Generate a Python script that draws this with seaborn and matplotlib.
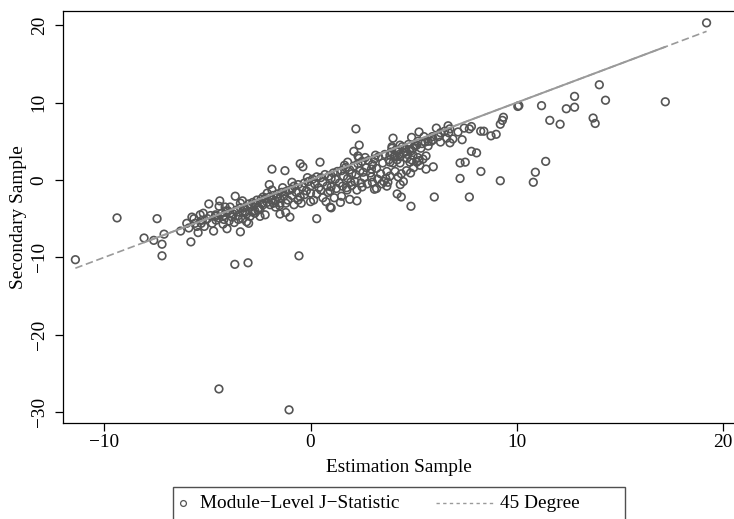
import numpy as np
import pandas as pd
import matplotlib
matplotlib.use("Agg")
import matplotlib.pyplot as plt
import seaborn as sns
from matplotlib.lines import Line2D
from matplotlib.patches import Rectangle

# ---- data (Estimation Sample, Secondary Sample) ----
est_outer = [-11.4, -9.38, -7.44, -8.07, -7.6, -7.2, -7.2, -7.1, -5.8, -5.9, -5.45, -4.93, -4.4,
             -4.44, -3.67, -3.03, -1.04, -0.56, -3.4, -3.0, 0.3, 1.0, -1.48, -1.0, -1.2,
             2.2, 2.36, 2.1, 2.3, -1.87, -1.24, -0.5, -0.37, 0.46, 1.8, 4.0, 4.87, 6.0, 7.7,
             7.25, 7.25, 7.5, 8.26, 7.8, 8.05, 5.6, 4.2, 4.4, 3.1, 3.2, 2.25, 1.9, 0.95, 0.0]
sec_outer = [-10.3, -4.9, -5.0, -7.5, -7.8, -8.3, -9.8, -7.0, -8.0, -6.2, -6.8, -3.1, -2.7,
             -27.0, -10.9, -10.7, -29.7, -9.8, -6.7, -5.6, -5.0, -3.6, -4.4, -4.8, -4.2,
             6.6, 4.5, 3.7, 3.1, 1.4, 1.2, 2.1, 1.7, 2.3, 2.3, 5.4, -3.4, -2.2, -2.2,
             0.2, 2.2, 2.3, 1.1, 3.7, 3.5, 1.4, -1.8, -2.2, -1.2, -1.1, -2.7, -2.5, -1.4, -2.8]

est_upper = [19.2, 14.0, 14.3, 12.8, 12.8, 12.4, 11.2, 10.1, 10.05, 17.2, 13.7, 13.8, 11.6, 12.1,
             9.35, 9.3, 9.2, 8.4, 8.25, 8.75, 9.0, 11.4, 10.9, 10.8, 9.2, 7.8, 7.7, 7.45, 7.15,
             7.35, 6.67, 6.7, 6.6, 6.76, 6.9, 6.3, 6.1, 5.9, 5.95, 5.7, 5.55, 5.26, 4.9, 5.4,
             5.15, 4.97, 4.8, 4.58, 4.34, 3.95, 4.2, 4.5, 4.7, 4.97, 5.2, 5.45, 5.6, 5.26, 4.9,
             4.67, 4.34, 4.1, 4.0, 4.34, 4.82, 5.15, 3.95, 3.85, 3.85, 4.2, 3.7, 2.96, 2.5,
             2.25, 1.77, 1.5, 0.95]
sec_upper = [20.3, 12.3, 10.3, 10.8, 9.4, 9.2, 9.6, 9.6, 9.5, 10.1, 8.0, 7.3, 7.7, 7.2,
             8.1, 7.7, 7.2, 6.3, 6.3, 5.7, 5.9, 2.4, 1.0, -0.3, -0.1, 6.9, 6.6, 6.7, 6.2,
             5.2, 7.0, 6.1, 5.4, 4.8, 5.3, 6.1, 6.7, 5.6, 5.2, 5.0, 4.9, 6.2, 5.5, 4.7,
             4.5, 4.1, 3.9, 4.1, 4.5, 4.1, 3.7, 3.5, 3.3, 3.2, 2.9, 2.7, 3.1, 2.5, 2.6,
             2.8, 3.0, 3.2, 2.2, 2.2, 2.3, 2.3, 4.3, 3.2, 2.3, 2.6, -0.8, 0.4, -0.9,
             -1.3, -1.3, -2.1, -3.5]

est_left = [-5.35, -5.2, -5.5, -4.7, -4.2, -4.05, -3.9, -3.75, -3.3, -3.1, -3.65, -4.77, -4.58,
            -4.24, -3.95, -3.7, -5.15, -5.25, -4.14, -4.43, -3.4, -3.17, -2.93, -2.83, -2.7,
            -2.45, -2.45, -2.2, -2.35, -2.3, -2.0, -1.48, -1.7, -1.96, -1.6, -1.87, -2.1,
            -6.3, -6.0, -5.65, -5.6, -5.3, -5.0, -4.85, -4.6, -4.45, -4.3, -4.1, -5.75]
sec_left = [-4.5, -4.3, -6.0, -6.6, -5.1, -6.3, -4.3, -4.4, -2.7, -5.4, -2.1, -5.6, -5.2,
            -5.7, -5.3, -5.5, -6.0, -5.2, -3.5, -3.4, -3.6, -4.2, -4.7, -4.1, -4.3,
            -3.8, -4.7, -4.5, -3.0, -2.2, -0.6, -3.0, -3.5, -3.2, -2.2, -1.3, -1.7,
            -6.6, -5.6, -5.0, -5.6, -5.6, -5.0, -4.6, -4.5, -4.9, -4.3, -4.0, -4.8]

est_band = [-2.9, -2.8, -2.7, -2.6, -2.5, -2.4, -2.3, -2.2, -2.1, -2.0, -2.7, -2.55,
            -1.9, -1.8, -1.7, -1.6, -1.5, -1.4, -1.3, -1.2, -1.1, -1.0, -1.5, -1.2, -0.9, -1.8, -1.35,
            -0.9, -0.8, -0.7, -0.6, -0.5, -0.4, -0.3, -0.2, -0.1, 0.0, -0.6, -0.3, -0.8, -0.45, 0.0, -0.9, -0.15,
            0.1, 0.2, 0.3, 0.4, 0.5, 0.6, 0.7, 0.8, 0.9, 1.0, 0.3, 0.6, 0.85, 0.15, 0.5, 0.75, 1.0,
            1.1, 1.2, 1.3, 1.4, 1.5, 1.6, 1.7, 1.8, 1.9, 2.0, 1.25, 1.55, 1.75, 1.95, 1.45, 1.15, 1.65, 2.0,
            2.1, 2.2, 2.3, 2.4, 2.5, 2.6, 2.7, 2.8, 2.9, 3.0, 2.15, 2.45, 2.75, 2.35, 2.65, 2.95, 3.0, 2.55,
            3.1, 3.2, 3.3, 3.4, 3.5, 3.6, 3.7, 3.8, 3.9, 3.25, 3.55, 3.45, 3.65, 3.85, 3.15, 3.75,
            4.05, 4.15, 4.3, 4.45, 4.6, 4.75, 4.9, 4.25, 4.1, 4.4, 4.65, 4.85, 4.5, 4.35,
            5.05, 5.2, 5.35, 5.5, 5.7, 5.85, 5.0, 5.3, 5.95, 6.2, 6.5, 6.75, 6.3,
            -4.0, -3.9, -3.8, -3.6, -3.5, -3.4, -3.3, -3.2, -3.1, -3.0, -3.5, -3.3, -4.2, -4.6]
sec_band = [-3.4, -2.9, -3.1, -2.6, -3.6, -2.5, -3.2, -2.4, -2.9, -2.2, -4.0, -3.9,
            -2.6, -2.0, -2.7, -1.8, -2.4, -1.6, -2.1, -1.5, -2.6, -1.3, -3.3, -3.0, -2.0, -3.0, -1.0,
            -1.2, -0.8, -1.6, -0.6, -2.2, -0.9, -0.4, -1.4, -0.2, -0.8, -2.6, -1.9, -3.2, -3.0, -1.7, -0.3, 0.3,
            0.1, -0.5, 0.4, -1.0, 0.3, -0.3, 0.7, -0.8, 0.5, 0.2, -1.8, -2.3, -1.6, -2.6, -1.3, -2.8, -0.9,
            0.9, 0.1, 1.1, -0.4, 1.2, 0.5, 1.6, 0.2, 1.3, 0.8, -1.1, -0.8, -1.0, -0.3, -2.9, -2.3, 1.9, -0.7,
            1.8, 0.7, 2.1, 1.2, 2.4, 0.3, 1.6, 2.5, 0.9, 2.0, -0.2, -0.4, -0.5, 2.8, 2.9, 1.4, -0.3, 1.0,
            2.7, 1.5, 3.0, 0.8, 2.2, 3.3, 1.1, 2.6, 3.6, 0.1, -0.2, -0.5, 0.2, 0.5, 3.2, -0.3,
            3.0, 3.9, 3.3, 4.3, 3.6, 4.6, 3.8, 0.4, 1.1, 0.8, 1.2, 0.9, -0.2, -0.6,
            4.4, 5.0, 4.1, 5.6, 4.4, 5.0, 1.6, 1.9, 1.7, 5.6, 6.3, 6.6, 4.9,
            -4.0, -3.5, -4.8, -3.9, -4.6, -3.0, -4.1, -3.6, -4.4, -3.1, -5.1, -5.0, -4.6, -4.7]

estimation = est_outer + est_upper + est_left + est_band
secondary = sec_outer + sec_upper + sec_left + sec_band

x_ticks = [-10, 0, 10, 20]
y_ticks = [-30, -20, -10, 0, 10, 20]
x_label = "Estimation Sample"
y_label = "Secondary Sample"
legend_labels = ["Module\u2212Level J\u2212Statistic", "45 Degree"]

# ---- style ----
sns.set_theme(style="white")
plt.rcParams['font.family'] = ['Liberation Serif', 'DejaVu Serif']
plt.rcParams['axes.unicode_minus'] = True
FS = 13.9
W, H = 734, 519
PT_COL = '#555555'
LN_COL = '#9a9a9a'

fig = plt.figure(figsize=(W / 100, H / 100), dpi=100)
fig.patch.set_facecolor('white')
ax = fig.add_axes([63 / W, (H - 423) / H, (W - 63) / W, 412 / H])

df = pd.DataFrame({x_label: estimation, y_label: secondary})
sns.scatterplot(data=df, x=x_label, y=y_label, ax=ax, s=30, marker='o',
                color=PT_COL, linewidth=1.2, zorder=2, legend=False)
coll = ax.collections[0]
coll.set_facecolor('none')
coll.set_edgecolor(PT_COL)
coll.set_linewidth(1.2)

# 45 degree line over the range of the estimation sample:
# dashed near the sparse ends, effectively solid where the modules are dense
xs = np.sort(np.array(estimation))
line_df = pd.DataFrame({'x': [xs[0], xs[-1]], 'y': [xs[0], xs[-1]]})
sns.lineplot(data=line_df, x='x', y='y', ax=ax, color=LN_COL, linewidth=1.2,
             linestyle=(0, (4.5, 2.2)), zorder=3, legend=False)
inner_df = pd.DataFrame({'x': [xs[2], xs[-2]], 'y': [xs[2], xs[-2]]})
sns.lineplot(data=inner_df, x='x', y='y', ax=ax, color=LN_COL, linewidth=1.4,
             zorder=3, legend=False)

ax.set_xlim(-12.0, 20.53)
ax.set_ylim(-31.4, 21.83)
ax.set_xticks(x_ticks)
ax.set_yticks(y_ticks)
ax.tick_params(axis='both', which='major', direction='out', length=6, width=0.9,
               color='black', labelsize=FS, labelcolor='black', bottom=True, left=True)
ax.tick_params(axis='x', pad=2)
ax.tick_params(axis='y', pad=5)
for lab in ax.get_yticklabels():
    lab.set_rotation(90)
    lab.set_va('center')
for side in ['top', 'left', 'bottom']:
    ax.spines[side].set_color('black')
    ax.spines[side].set_linewidth(0.9)
ax.spines['right'].set_visible(False)
ax.grid(False)

ax.set_xlabel(x_label, fontsize=FS, color='black')
ax.set_ylabel(y_label, fontsize=FS, color='black')
ax.xaxis.set_label_coords(0.5, (423 - 459) / 412)
ax.yaxis.set_label_coords((27 - 63) / (W - 63), 0.5)

# ---- legend box below the plot ----
def fx(px):
    return px / W

def fy(py):
    return (H - py) / H

fig.patches.append(Rectangle((fx(173), fy(530)), fx(625) - fx(173), fy(487) - fy(530),
                             transform=fig.transFigure, fill=False, edgecolor='#505050',
                             linewidth=1.0))
fig.lines.append(Line2D([fx(183)], [fy(503)], transform=fig.transFigure, marker='o',
                        markersize=4.2, markerfacecolor='none', markeredgecolor=PT_COL,
                        markeredgewidth=0.9, linestyle='none'))
fig.text(fx(200), fy(504), legend_labels[0], fontsize=FS, va='center', ha='left', color='black')
fig.lines.append(Line2D([fx(436), fx(493)], [fy(503), fy(503)], transform=fig.transFigure,
                        color=LN_COL, linewidth=1.0, linestyle=(0, (2.4, 2.4))))
fig.text(fx(500), fy(504), legend_labels[1], fontsize=FS, va='center', ha='left', color='black')

fig.savefig("out.png", dpi=100, facecolor='white')
